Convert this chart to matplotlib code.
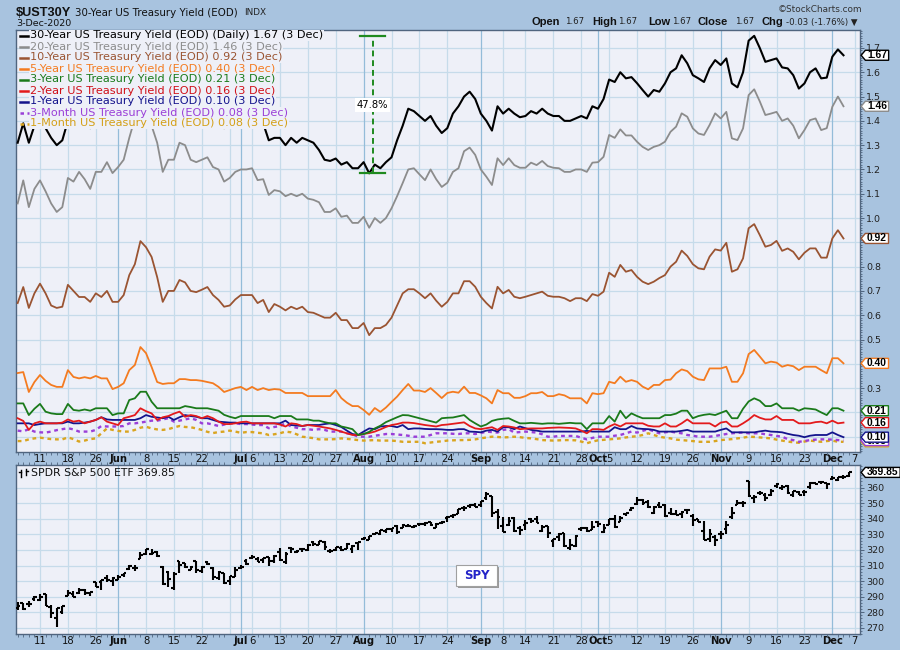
import numpy as np
import pandas as pd
import matplotlib
matplotlib.use('Agg')
import matplotlib.pyplot as plt
from matplotlib.path import Path
from matplotlib.collections import LineCollection
from matplotlib.lines import Line2D
from matplotlib.patches import Rectangle
import matplotlib.ticker as mticker

plt.rcParams['font.family'] = ['DejaVu Sans']

# ---------------- categories (trading days) ----------------
holidays = ['2020-05-25', '2020-07-03', '2020-09-07', '2020-11-26']
axis_dates = pd.bdate_range('2020-05-05', '2020-12-07', freq='C', holidays=holidays)

week_dates = ['2020-05-11', '2020-05-18', '2020-05-26', '2020-06-08', '2020-06-15', '2020-06-22',
              '2020-06-29', '2020-07-06', '2020-07-13', '2020-07-20', '2020-07-27', '2020-08-10',
              '2020-08-17', '2020-08-24', '2020-09-08', '2020-09-14', '2020-09-21', '2020-09-28',
              '2020-10-05', '2020-10-12', '2020-10-19', '2020-10-26', '2020-11-09', '2020-11-16',
              '2020-11-23', '2020-12-07']
week_labels = ['11', '18', '26', '8', '15', '22', '', '6', '13', '20', '27', '10', '17', '24',
               '8', '14', '21', '28', '5', '12', '19', '26', '9', '16', '23', '7']
month_dates = ['2020-06-01', '2020-07-01', '2020-08-03', '2020-09-01', '2020-10-01',
               '2020-11-02', '2020-12-01']
month_labels = ['Jun', 'Jul', 'Aug', 'Sep', 'Oct', 'Nov', 'Dec']

# ---------------- Treasury yields (EOD), 5 May .. 3 Dec 2020 ----------------
y30 = [1.31, 1.39, 1.31, 1.38,
       1.41, 1.37, 1.33, 1.30, 1.32,
       1.40, 1.38, 1.40, 1.39, 1.37,
       1.43, 1.43, 1.47, 1.42,
       1.45, 1.48, 1.57, 1.64, 1.68,
       1.66, 1.60, 1.53, 1.42, 1.46,
       1.46, 1.53, 1.52, 1.46, 1.46,
       1.46, 1.47, 1.43, 1.42, 1.37,
       1.38, 1.41, 1.43, 1.43,
       1.44, 1.38, 1.39, 1.32, 1.33,
       1.33, 1.30, 1.33, 1.31, 1.33,
       1.32, 1.31, 1.28, 1.24, 1.235,
       1.245, 1.22, 1.23, 1.205, 1.205,
       1.23, 1.184, 1.22, 1.205, 1.23,
       1.25, 1.32, 1.38, 1.45, 1.44,
       1.42, 1.40, 1.42, 1.38, 1.35,
       1.37, 1.43, 1.46, 1.50, 1.52,
       1.49, 1.43, 1.40, 1.36, 1.46,
       1.43, 1.45, 1.43, 1.415,
       1.42, 1.44, 1.43, 1.45, 1.43,
       1.42, 1.42, 1.40, 1.40, 1.41,
       1.42, 1.41, 1.46, 1.45, 1.49,
       1.57, 1.56, 1.60, 1.575, 1.58,
       1.555, 1.527, 1.50, 1.527, 1.52,
       1.554, 1.60, 1.616, 1.67, 1.637,
       1.588, 1.575, 1.56, 1.616, 1.65,
       1.63, 1.657, 1.554, 1.538, 1.60,
       1.73, 1.75, 1.70, 1.643, 1.65,
       1.657, 1.62, 1.616, 1.588, 1.533,
       1.554, 1.60, 1.616,
       1.575,
       1.578, 1.664, 1.694, 1.67]

y20 = [1.06, 1.155, 1.045, 1.12,
       1.155, 1.11, 1.06, 1.025, 1.045,
       1.165, 1.15, 1.19, 1.16, 1.12,
       1.19, 1.19, 1.23, 1.185,
       1.21, 1.24, 1.33, 1.41, 1.45,
       1.44, 1.38, 1.31, 1.19, 1.24,
       1.24, 1.31, 1.30, 1.24, 1.23,
       1.24, 1.25, 1.21, 1.20, 1.15,
       1.165, 1.19, 1.20, 1.20,
       1.205, 1.156, 1.16, 1.095, 1.115,
       1.11, 1.09, 1.10, 1.09, 1.10,
       1.08, 1.075, 1.065, 1.025, 1.025,
       1.04, 1.005, 1.01, 0.98, 0.98,
       1.005, 0.96, 1.00, 0.98, 1.00,
       1.04, 1.09, 1.144, 1.20, 1.205,
       1.18, 1.156, 1.20, 1.16, 1.128,
       1.145, 1.19, 1.205, 1.275, 1.29,
       1.26, 1.20, 1.17, 1.136, 1.246,
       1.218, 1.246, 1.218, 1.207,
       1.207, 1.228, 1.218, 1.235, 1.214,
       1.207, 1.205, 1.19, 1.19, 1.20,
       1.20, 1.19, 1.228, 1.23, 1.252,
       1.342, 1.33, 1.365, 1.34, 1.34,
       1.314, 1.293, 1.28, 1.293, 1.30,
       1.314, 1.355, 1.376, 1.431, 1.417,
       1.369, 1.348, 1.342, 1.383, 1.431,
       1.41, 1.437, 1.328, 1.321, 1.369,
       1.506, 1.53, 1.48, 1.424, 1.43,
       1.437, 1.40, 1.41, 1.38, 1.328,
       1.362, 1.403, 1.41,
       1.362,
       1.37, 1.458, 1.50, 1.46]

y10 = [0.65, 0.716, 0.63, 0.69,
       0.73, 0.69, 0.64, 0.63, 0.635,
       0.725, 0.70, 0.675, 0.675, 0.655,
       0.69, 0.675, 0.70, 0.655,
       0.655, 0.683, 0.765, 0.81, 0.905,
       0.88, 0.84, 0.757, 0.655, 0.70,
       0.70, 0.745, 0.735, 0.70, 0.695,
       0.705, 0.716, 0.683, 0.663, 0.635,
       0.64, 0.665, 0.683, 0.683,
       0.683, 0.65, 0.663, 0.613, 0.646,
       0.635, 0.62, 0.635, 0.625, 0.635,
       0.613, 0.61, 0.60, 0.59, 0.59,
       0.61, 0.58, 0.58, 0.547, 0.547,
       0.568, 0.518, 0.547, 0.547, 0.56,
       0.59, 0.64, 0.69, 0.707, 0.707,
       0.69, 0.67, 0.69, 0.66, 0.635,
       0.655, 0.69, 0.69, 0.74, 0.74,
       0.717, 0.676, 0.65, 0.628, 0.717,
       0.69, 0.704, 0.676, 0.67,
       0.676, 0.683, 0.69, 0.697, 0.68,
       0.676, 0.676, 0.67, 0.658, 0.67,
       0.67, 0.658, 0.687, 0.68, 0.697,
       0.775, 0.758, 0.807, 0.779, 0.786,
       0.758, 0.738, 0.728, 0.738, 0.753,
       0.765, 0.80, 0.82, 0.866, 0.844,
       0.81, 0.793, 0.789, 0.841, 0.871,
       0.866, 0.898, 0.779, 0.789, 0.834,
       0.958, 0.975, 0.93, 0.882, 0.889,
       0.906, 0.865, 0.875, 0.861, 0.83,
       0.857, 0.875, 0.875,
       0.837,
       0.837, 0.916, 0.95, 0.916]

y5 = [0.362, 0.366, 0.284, 0.325,
      0.354, 0.33, 0.313, 0.305, 0.305,
      0.374, 0.346, 0.34, 0.345, 0.34,
      0.35, 0.34, 0.34, 0.296,
      0.305, 0.32, 0.374, 0.395, 0.469,
      0.444, 0.387, 0.325, 0.317, 0.32,
      0.32, 0.337, 0.337, 0.333, 0.333,
      0.33, 0.325, 0.32, 0.305, 0.284,
      0.292, 0.30, 0.305, 0.292,
      0.305, 0.292, 0.30, 0.292, 0.296,
      0.294, 0.28, 0.28, 0.28, 0.28,
      0.267, 0.267, 0.267, 0.267, 0.267,
      0.292, 0.259, 0.24, 0.226, 0.226,
      0.21, 0.19, 0.218, 0.202, 0.22,
      0.243, 0.265, 0.292, 0.317, 0.29,
      0.29, 0.284, 0.30, 0.28, 0.259,
      0.28, 0.285, 0.281, 0.306, 0.28,
      0.28, 0.27, 0.258, 0.237, 0.292,
      0.279, 0.279, 0.26, 0.26,
      0.267, 0.279, 0.279, 0.284, 0.267,
      0.267, 0.275, 0.27, 0.258, 0.258,
      0.258, 0.237, 0.279, 0.275, 0.279,
      0.326, 0.32, 0.347, 0.326, 0.333,
      0.326, 0.306, 0.295, 0.313, 0.313,
      0.333, 0.335, 0.361, 0.377, 0.37,
      0.347, 0.336, 0.333, 0.381, 0.381,
      0.381, 0.388, 0.326, 0.326, 0.361,
      0.44, 0.457, 0.43, 0.402, 0.409,
      0.405, 0.388, 0.395, 0.39, 0.374,
      0.388, 0.388, 0.388,
      0.374,
      0.361, 0.423, 0.423, 0.402]

y3 = [0.237, 0.237, 0.189, 0.215,
      0.235, 0.203, 0.196, 0.193, 0.193,
      0.235, 0.21, 0.207, 0.212, 0.207,
      0.217, 0.217, 0.217, 0.189,
      0.196, 0.196, 0.251, 0.258, 0.285,
      0.285, 0.244, 0.217, 0.217, 0.217,
      0.217, 0.217, 0.226, 0.222, 0.217,
      0.217, 0.217, 0.212, 0.207, 0.19,
      0.182, 0.176, 0.185, 0.185,
      0.185, 0.185, 0.185, 0.185, 0.176,
      0.185, 0.185, 0.185, 0.171, 0.171,
      0.171, 0.166, 0.166, 0.16, 0.155,
      0.155, 0.142, 0.137, 0.131, 0.107,
      0.111, 0.12, 0.134, 0.145, 0.16,
      0.17, 0.18, 0.189, 0.188, 0.182,
      0.176, 0.17, 0.164, 0.158, 0.176,
      0.178, 0.179, 0.184, 0.189, 0.169,
      0.155, 0.142, 0.15, 0.165, 0.171,
      0.174, 0.176, 0.165, 0.155,
      0.155, 0.157, 0.155, 0.153, 0.155,
      0.155, 0.153, 0.155, 0.157, 0.155,
      0.155, 0.131, 0.155, 0.155, 0.155,
      0.185, 0.162, 0.207, 0.176, 0.196,
      0.185, 0.176, 0.176, 0.176, 0.176,
      0.189, 0.189, 0.195, 0.207, 0.207,
      0.176, 0.185, 0.19, 0.193, 0.189,
      0.198, 0.207, 0.176, 0.176, 0.215,
      0.245, 0.258, 0.248, 0.226, 0.226,
      0.237, 0.217, 0.217, 0.217, 0.207,
      0.217, 0.215, 0.212,
      0.20,
      0.189, 0.217, 0.217, 0.207]

y2 = [0.176, 0.165, 0.128, 0.155,
      0.162, 0.155, 0.155, 0.155, 0.158,
      0.171, 0.162, 0.166, 0.155, 0.162,
      0.169, 0.18, 0.162, 0.155,
      0.148, 0.176, 0.182, 0.189, 0.217,
      0.205, 0.196, 0.169, 0.18, 0.185,
      0.195, 0.203, 0.182, 0.189, 0.185,
      0.176, 0.185, 0.176, 0.162, 0.152,
      0.152, 0.155, 0.16, 0.162,
      0.155, 0.155, 0.155, 0.155, 0.155,
      0.15, 0.142, 0.155, 0.152, 0.144,
      0.148, 0.145, 0.142, 0.138, 0.134,
      0.128, 0.121, 0.114, 0.107, 0.107,
      0.111, 0.115, 0.121, 0.13, 0.14,
      0.148, 0.152, 0.158, 0.158, 0.156,
      0.152, 0.148, 0.145, 0.142, 0.148,
      0.15, 0.153, 0.156, 0.159, 0.144,
      0.134, 0.131, 0.135, 0.139, 0.128,
      0.144, 0.142, 0.138, 0.131,
      0.133, 0.134, 0.134, 0.134, 0.136,
      0.137, 0.138, 0.137, 0.136, 0.134,
      0.125, 0.114, 0.131, 0.131, 0.128,
      0.142, 0.152, 0.142, 0.155, 0.155,
      0.155, 0.155, 0.145, 0.142, 0.142,
      0.155, 0.142, 0.142, 0.155, 0.171,
      0.155, 0.155, 0.155, 0.155, 0.142,
      0.158, 0.162, 0.142, 0.142, 0.155,
      0.17, 0.189, 0.178, 0.171, 0.171,
      0.185, 0.169, 0.169, 0.169, 0.155,
      0.155, 0.155, 0.16,
      0.162,
      0.155, 0.166, 0.155, 0.158]

y1 = [0.155, 0.155, 0.155, 0.148,
      0.152, 0.155, 0.155, 0.155, 0.155,
      0.162, 0.155, 0.155, 0.158, 0.162,
      0.169, 0.18, 0.171, 0.169,
      0.169, 0.169, 0.169, 0.169, 0.176,
      0.189, 0.182, 0.179, 0.176, 0.182,
      0.169, 0.18, 0.189, 0.185, 0.182,
      0.176, 0.176, 0.169, 0.162, 0.16,
      0.158, 0.158, 0.155, 0.155,
      0.155, 0.155, 0.155, 0.155, 0.155,
      0.155, 0.166, 0.148, 0.146, 0.144,
      0.148, 0.148, 0.148, 0.152, 0.155,
      0.148, 0.14, 0.125, 0.111, 0.107,
      0.121, 0.134, 0.131, 0.142, 0.144,
      0.144, 0.139, 0.148, 0.131, 0.134,
      0.134, 0.132, 0.131, 0.131, 0.13,
      0.128, 0.128, 0.131, 0.131, 0.121,
      0.12, 0.118, 0.125, 0.128, 0.121,
      0.139, 0.139, 0.131, 0.142,
      0.135, 0.128, 0.125, 0.121, 0.121,
      0.121, 0.121, 0.121, 0.121, 0.121,
      0.121, 0.124, 0.121, 0.121, 0.121,
      0.121, 0.139, 0.131, 0.131, 0.144,
      0.134, 0.132, 0.131, 0.128, 0.121,
      0.121, 0.121, 0.121, 0.124, 0.128,
      0.121, 0.121, 0.121, 0.121, 0.121,
      0.128, 0.134, 0.118, 0.118, 0.118,
      0.118, 0.118, 0.122, 0.125, 0.121,
      0.12, 0.118, 0.112, 0.107, 0.104,
      0.098, 0.104, 0.107,
      0.107,
      0.107, 0.118, 0.107, 0.098]

y3m = [0.125, 0.122, 0.131, 0.121,
       0.118, 0.117, 0.121, 0.127, 0.131,
       0.135, 0.13, 0.121, 0.121, 0.121,
       0.128, 0.144, 0.142, 0.142,
       0.142, 0.144, 0.155, 0.155, 0.158,
       0.162, 0.166, 0.166, 0.171, 0.176,
       0.162, 0.166, 0.171, 0.176, 0.169,
       0.155, 0.155, 0.15, 0.144, 0.15,
       0.155, 0.155, 0.152, 0.152,
       0.15, 0.148, 0.148, 0.135, 0.14,
       0.144, 0.155, 0.142, 0.137, 0.131,
       0.131, 0.128, 0.131, 0.128, 0.121,
       0.121, 0.121, 0.114, 0.11, 0.10,
       0.10, 0.10, 0.104, 0.107, 0.111,
       0.111, 0.109, 0.107, 0.104, 0.10,
       0.10, 0.10, 0.107, 0.114, 0.114,
       0.114, 0.112, 0.111, 0.114, 0.114,
       0.111, 0.115, 0.121, 0.119, 0.117,
       0.128, 0.131, 0.117, 0.119,
       0.121, 0.119, 0.117, 0.11, 0.10,
       0.10, 0.103, 0.103, 0.103, 0.103,
       0.096, 0.089, 0.095, 0.10, 0.10,
       0.10, 0.104, 0.107, 0.114, 0.121,
       0.117, 0.124, 0.131, 0.122, 0.114,
       0.118, 0.121, 0.117, 0.114, 0.107,
       0.104, 0.10, 0.10, 0.10, 0.103,
       0.107, 0.111, 0.114, 0.116, 0.117,
       0.114, 0.114, 0.114, 0.11, 0.107,
       0.103, 0.10, 0.09, 0.086, 0.079,
       0.082, 0.086, 0.088,
       0.089,
       0.089, 0.088, 0.086, 0.084]

y1m = [0.082, 0.082, 0.089, 0.093,
       0.096, 0.093, 0.09, 0.089, 0.089,
       0.097, 0.09, 0.08, 0.084, 0.09,
       0.093, 0.114, 0.134, 0.128,
       0.124, 0.121, 0.121, 0.128, 0.137,
       0.141, 0.134, 0.13, 0.128, 0.131,
       0.138, 0.144, 0.14, 0.139, 0.134,
       0.128, 0.12, 0.115, 0.119, 0.121,
       0.125, 0.121, 0.116, 0.119,
       0.119, 0.116, 0.114, 0.107, 0.11,
       0.114, 0.121, 0.118, 0.11, 0.10,
       0.097, 0.094, 0.089, 0.089, 0.089,
       0.09, 0.093, 0.091, 0.089, 0.086,
       0.084, 0.085, 0.086, 0.084, 0.084,
       0.084, 0.082, 0.079, 0.079, 0.079,
       0.079, 0.073, 0.076, 0.079, 0.081,
       0.084, 0.085, 0.086, 0.086, 0.087,
       0.089, 0.093, 0.097, 0.10, 0.099,
       0.097, 0.098, 0.10, 0.098,
       0.095, 0.093, 0.09, 0.086, 0.085,
       0.084, 0.085, 0.086, 0.086, 0.085,
       0.08, 0.073, 0.08, 0.085, 0.087,
       0.089, 0.091, 0.093, 0.097, 0.10,
       0.102, 0.107, 0.114, 0.107, 0.10,
       0.096, 0.093, 0.088, 0.086, 0.084,
       0.082, 0.079, 0.079, 0.079, 0.082,
       0.086, 0.088, 0.09, 0.093, 0.096,
       0.10, 0.099, 0.097, 0.095, 0.093,
       0.088, 0.084, 0.08, 0.077, 0.075,
       0.08, 0.084, 0.081,
       0.079,
       0.082, 0.084, 0.079, 0.079]

# ---------------- SPY daily OHLC, 5 May .. 4 Dec 2020 (dividend adjusted) ----------------
spy_open = [282.6, 285.6, 285.3, 288.6,
            287.9, 291.5, 283.6, 276.6, 280.0,
            290.6, 291.8, 292.5, 294.3, 292.1,
            299.4, 299.6, 302.1, 299.9,
            301.0, 303.9, 307.6, 308.5, 314.5,
            317.5, 317.6, 318.7, 308.8, 305.6,
            295.5, 312.8, 311.4, 307.4, 312.9,
            306.7, 312.2, 308.6, 302.2, 304.9,
            300.2, 302.7, 308.3, 312.9,
            315.1, 314.1, 313.3, 315.5, 313.0,
            318.8, 312.0, 321.1, 318.5, 320.6,
            320.1, 325.1, 323.3, 325.1, 319.6,
            320.3, 321.1, 320.8, 320.6, 324.6,
            327.0, 326.5, 330.1, 330.1, 331.9,
            333.7, 335.5, 334.1, 335.5, 335.0,
            336.6, 336.9, 337.7, 334.0, 337.1,
            340.7, 342.1, 343.3, 347.1, 348.0,
            348.9, 348.9, 353.2, 354.4, 344.7,
            335.3, 336.2, 340.4, 334.4,
            336.1, 339.7, 340.1, 332.2, 335.4,
            325.7, 328.6, 330.9, 321.2, 322.6,
            333.2, 334.0, 333.1, 337.7, 331.7,
            336.1, 339.9, 338.1, 342.9, 345.6,
            349.6, 352.3, 350.8, 343.7, 349.0,
            348.7, 343.5, 343.3, 343.0, 345.9,
            342.1, 339.8, 332.1, 327.2, 328.3,
            330.2, 333.7, 340.9, 349.2, 349.9,
            364.0, 353.5, 356.4, 355.6, 355.3,
            361.0, 360.0, 360.9, 355.6, 357.5,
            357.3, 360.2, 363.1,
            363.8,
            362.8, 365.6, 364.8, 366.7, 367.3]

spy_high = [286.8, 286.0, 287.3, 290.5,
            291.5, 291.7, 284.8, 282.7, 283.9,
            294.2, 293.7, 295.3, 295.1, 293.1,
            299.6, 301.0, 304.2, 302.4,
            303.6, 305.5, 310.6, 310.3, 318.5,
            320.7, 320.5, 319.6, 309.5, 306.5,
            305.7, 313.0, 311.7, 309.6, 313.1,
            309.5, 313.2, 309.2, 306.4, 305.1,
            303.4, 308.9, 310.6, 314.4,
            316.6, 315.8, 315.0, 315.8, 316.6,
            321.4, 318.4, 321.7, 320.0, 321.3,
            323.8, 325.6, 325.9, 325.9, 320.7,
            322.1, 322.3, 324.4, 323.1, 325.3,
            328.3, 328.7, 331.0, 333.1, 333.5,
            334.4, 336.2, 336.9, 336.9, 336.0,
            336.9, 337.7, 338.2, 337.4, 338.3,
            341.6, 342.8, 346.4, 348.5, 349.3,
            349.9, 351.3, 357.3, 354.9, 346.4,
            341.2, 341.1, 341.1, 335.6,
            339.0, 340.6, 341.7, 336.3, 335.5,
            327.1, 330.9, 331.2, 326.8, 329.6,
            335.0, 334.8, 338.3, 338.7, 337.0,
            340.0, 342.2, 341.6, 343.9, 347.4,
            354.0, 352.5, 351.9, 348.0, 350.8,
            349.3, 346.9, 345.7, 345.2, 346.0,
            343.0, 340.1, 338.3, 333.4, 329.7,
            332.4, 338.3, 347.9, 352.2, 351.5,
            364.4, 355.2, 357.6, 356.7, 358.9,
            362.8, 361.9, 361.5, 358.2, 357.7,
            358.8, 363.8, 363.2,
            364.2,
            363.1, 367.7, 367.0, 368.2, 369.9]

spy_low = [281.2, 281.4, 283.6, 287.4,
           287.4, 284.1, 276.6, 270.7, 279.0,
           290.2, 289.5, 292.0, 291.2, 290.7,
           296.2, 294.3, 299.7, 296.9,
           300.5, 302.5, 307.3, 306.5, 314.5,
           316.9, 316.6, 315.5, 297.5, 296.1,
           294.2, 305.1, 308.2, 306.9, 305.3,
           305.2, 310.3, 300.9, 300.6, 298.2,
           297.7, 302.6, 307.8, 310.2,
           314.3, 312.4, 311.4, 309.4, 311.5,
           312.8, 310.7, 318.0, 317.8, 318.4,
           319.3, 322.6, 323.2, 320.2, 317.9,
           319.5, 319.5, 320.8, 318.3, 320.0,
           326.4, 326.5, 329.8, 329.8, 330.9,
           331.6, 330.5, 334.1, 334.5, 334.2,
           335.5, 335.2, 335.2, 333.8, 336.4,
           338.1, 340.4, 342.8, 345.1, 346.7,
           347.6, 347.8, 352.0, 341.2, 333.5,
           331.5, 335.2, 331.5, 329.6,
           332.9, 337.1, 337.1, 331.6, 328.0,
           321.7, 325.9, 322.1, 319.8, 321.6,
           332.2, 331.6, 332.9, 335.0, 331.2,
           336.0, 334.4, 338.1, 341.9, 344.9,
           349.1, 349.1, 347.1, 343.1, 347.1,
           341.0, 342.6, 342.4, 340.7, 343.1,
           335.6, 338.0, 326.1, 325.1, 322.6,
           327.2, 330.3, 339.6, 348.9, 347.7,
           354.1, 350.5, 355.1, 351.3, 354.7,
           359.6, 358.3, 356.2, 354.2, 355.3,
           354.9, 359.3, 361.5,
           362.6,
           359.2, 364.9, 364.2, 365.5, 367.2]

spy_close = [283.8, 281.8, 285.2, 290.0,
             290.0, 284.2, 279.2, 282.5, 283.9,
             292.5, 289.5, 294.4, 292.4, 292.9,
             296.5, 300.9, 300.4, 301.7,
             302.9, 305.5, 309.5, 308.7, 316.6,
             320.5, 318.1, 316.3, 298.1, 301.6,
             304.4, 310.3, 309.0, 309.1, 307.4,
             309.3, 310.8, 302.8, 306.1, 298.8,
             303.2, 307.1, 309.2, 310.9,
             315.8, 312.5, 314.9, 313.1, 316.3,
             313.5, 317.6, 320.5, 319.5, 320.4,
             323.0, 323.7, 325.5, 321.6, 319.6,
             321.9, 319.9, 323.8, 322.6, 325.2,
             327.4, 328.7, 330.7, 333.0, 333.2,
             334.2, 331.4, 336.1, 335.5, 335.5,
             336.5, 337.3, 335.8, 336.9, 338.1,
             341.5, 342.7, 346.1, 346.9, 349.1,
             347.9, 351.2, 356.2, 344.0, 341.2,
             331.8, 338.4, 332.5, 332.7,
             337.1, 338.8, 337.4, 334.5, 330.7,
             327.0, 330.3, 322.6, 323.5, 328.7,
             334.2, 332.4, 334.9, 337.0, 333.8,
             339.8, 334.9, 340.8, 343.8, 346.9,
             352.4, 350.1, 347.9, 347.5, 347.3,
             342.0, 343.4, 342.7, 344.6, 345.8,
             339.4, 338.2, 326.7, 330.0, 326.5,
             330.2, 336.0, 343.5, 350.2, 350.2,
             354.6, 354.0, 356.7, 353.2, 358.1,
             362.6, 360.6, 356.3, 357.8, 355.3,
             357.5, 363.2, 362.7,
             363.7,
             362.1, 366.0, 366.8, 366.7, 369.85]

series_names = ['30-Year US Treasury Yield (EOD) (Daily)', '20-Year US Treasury Yield (EOD)',
                '10-Year US Treasury Yield (EOD)', '5-Year US Treasury Yield (EOD)',
                '3-Year US Treasury Yield (EOD)', '2-Year US Treasury Yield (EOD)',
                '1-Year US Treasury Yield (EOD)', '3-Month US Treasury Yield (EOD)',
                '1-Month US Treasury Yield (EOD)']
series_data = [y30, y20, y10, y5, y3, y2, y1, y3m, y1m]
for s in series_data:
    assert len(s) == 149, len(s)
for s in (spy_open, spy_high, spy_low, spy_close):
    assert len(s) == 150, len(s)
assert len(axis_dates) == 151

# ---------------- styles ----------------
OUTER = '#a8c3df'
PLOT_BG = '#eef0f8'
GRID = '#c6dbea'
GRID_M = '#94bcd9'
SPINE = '#50657f'
colors = ['#000000', '#8c8c8c', '#9a5432', '#f47b20', '#1a7a1a', '#e31a1c', '#14148c',
          '#9a3fd8', '#d9a520']
text_colors = ['#000000', '#8c8c8c', '#9a5432', '#f47b20', '#1a7a1a', '#d01018', '#14148c',
               '#9a3fd8', '#d4a017']
dashed = [False] * 7 + [True, True]

W, H = 900, 650
fig = plt.figure(figsize=(9, 6.5), dpi=100)
fig.patch.set_facecolor(OUTER)


def px_axes(l, t, r, b):
    return fig.add_axes([l / W, 1 - b / H, (r - l) / W, (b - t) / H])


ax1 = px_axes(16, 30, 860, 452)
ax2 = px_axes(16, 465, 860, 634)

date_pos = {d.strftime('%Y-%m-%d'): i for i, d in enumerate(axis_dates)}
week_pos = [date_pos[d] for d in week_dates]
month_pos = [date_pos[d] for d in month_dates]
xmin, xmax = -0.3, len(axis_dates) - 0.04

for ax in (ax1, ax2):
    ax.set_facecolor(PLOT_BG)
    ax.set_xlim(xmin, xmax)
    for s in ax.spines.values():
        s.set_color(SPINE)
        s.set_linewidth(1.0)
    for p in week_pos:
        ax.axvline(p, color=GRID, lw=0.9, zorder=0.5)
    for p in month_pos:
        ax.axvline(p, color=GRID_M, lw=0.9, zorder=0.6)
    ax.set_xticks(week_pos + month_pos)
    ax.set_xticklabels(week_labels + month_labels)
    for k, lab in enumerate(ax.get_xticklabels()):
        lab.set_fontsize(7.2)
        lab.set_color('#111111')
        if k >= len(week_pos):
            lab.set_fontweight('bold')
    ax.xaxis.set_minor_locator(mticker.FixedLocator(np.arange(len(axis_dates))))
    ax.tick_params(axis='x', which='major', length=0, pad=1.5)
    ax.tick_params(axis='x', which='minor', length=2, color=SPINE, width=0.6)
    ax.yaxis.tick_right()
    ax.tick_params(axis='y', which='major', length=3, color=SPINE, width=0.7,
                   labelsize=6.8, labelcolor='#222222', pad=1.5)
    ax.tick_params(axis='y', which='minor', length=1.5, color=SPINE, width=0.6)
ax2.tick_params(axis='x', which='minor', top=True)

# ---------------- top panel: yields ----------------
last_vals = [s[-1] for s in series_data]
ax1.set_ylim(0.037, 1.774)
yt = np.round(np.arange(0.1, 1.71, 0.1), 1)
ax1.set_yticks(yt)
# labels hidden behind the value tags are left blank
ax1.set_yticklabels(['' if min(abs(t - v) for v in last_vals) < 0.025 else f'{t:.1f}' for t in yt])
ax1.yaxis.set_minor_locator(mticker.MultipleLocator(0.01))
ax1.grid(axis='y', color=GRID, lw=0.9, zorder=0.5)
ax1.set_axisbelow(True)

xs = np.arange(149)
for k in range(len(series_data) - 1, -1, -1):
    if dashed[k]:
        ax1.plot(xs, series_data[k], color=colors[k], lw=1.7, ls=(0, (1.6, 1.6)), zorder=3)
    else:
        ax1.plot(xs, series_data[k], color=colors[k], lw=1.5 if k == 0 else 1.3, zorder=3 + (k == 0))


def tag_box(x0, y0, width, height, mutation_size):
    p = 0.16 * mutation_size
    x0 -= p
    x1 = x0 + width + 2 * p
    y1 = y0 + height
    ym = 0.5 * (y0 + y1)
    tip = 0.42 * height
    return Path([(x0, y0), (x1, y0), (x1, y1), (x0, y1), (x0 - tip, ym), (x0, y0)], closed=True)


def add_tag(ax, yval, txt, ec, z):
    ax.annotate(txt, xy=(1, yval), xycoords=ax.get_yaxis_transform(), xytext=(7, 0),
                textcoords='offset pixels', ha='left', va='center', fontsize=7.4,
                fontweight='bold', family='Liberation Sans', color='black',
                bbox=dict(boxstyle=tag_box, fc='white', ec=ec, lw=1.0),
                annotation_clip=False, zorder=z)


tag_order = [8, 7, 6, 5, 4, 3, 2, 1, 0]
for z, k in enumerate(tag_order):
    last = series_data[k][-1]
    add_tag(ax1, last, f'{last:.2f}', colors[k], 10 + z)

# legend (each entry on its own background so lines pass behind)
fx = lambda px: px / W
fy = lambda py: 1 - py / H
for k, name in enumerate(series_names):
    yc = 35.5 + 11.0 * k
    fig.text(fx(30), fy(yc), f'{name} {series_data[k][-1]:.2f} (3 Dec)', fontsize=8.1,
             color=text_colors[k], ha='left', va='center', zorder=20,
             bbox=dict(boxstyle='square,pad=0.08', fc=PLOT_BG, ec='none'))
    if dashed[k]:
        fig.add_artist(Line2D([fx(19.5), fx(29)], [fy(yc), fy(yc)], color=colors[k], lw=1.8,
                              ls=(0, (1.4, 1.4)), zorder=21))
    else:
        fig.add_artist(Line2D([fx(19.5), fx(28)], [fy(yc), fy(yc)], color=colors[k], lw=1.8,
                              zorder=21))

# percentage change annotation (30Y low to high)
arr30 = np.array(y30)
i_lo = int(np.argmin(arr30))
lo, hi = arr30.min(), arr30.max()
xa = i_lo + 0.6
GREEN = '#1f8a1f'
ax1.plot([xa, xa], [lo, hi], color=GREEN, lw=1.4, ls=(0, (3, 2)), zorder=6)
ax1.plot([xa - 2.3, xa + 2.3], [lo, lo], color=GREEN, lw=1.6, zorder=6)
ax1.plot([xa - 2.3, xa + 2.3], [hi, hi], color=GREEN, lw=1.6, zorder=6)
ax1.text(xa, (lo + hi) / 2, f'{(hi / lo - 1) * 100:.1f}%', fontsize=7.2, ha='center',
         va='center', zorder=7, bbox=dict(boxstyle='square,pad=0.2', fc='white', ec='none'))

# ---------------- bottom panel: SPY OHLC ----------------
ax2.set_ylim(266, 374.6)
ax2.set_yticks(np.arange(270, 361, 10))
ax2.yaxis.set_minor_locator(mticker.MultipleLocator(2))
ax2.grid(axis='y', color=GRID, lw=0.9, zorder=0.5)
ax2.set_axisbelow(True)
segs = []
for i in range(len(spy_close)):
    segs.append([(i, spy_low[i]), (i, spy_high[i])])
    segs.append([(i - 0.5, spy_open[i]), (i, spy_open[i])])
    segs.append([(i, spy_close[i]), (i + 0.5, spy_close[i])])
ax2.add_collection(LineCollection(segs, colors='black', linewidths=1.5, zorder=3,
                                  capstyle='butt'))
add_tag(ax2, spy_close[-1], f'{spy_close[-1]:.2f}', '#000000', 10)

fig.text(fx(31), fy(473), f'SPDR S&P 500 ETF {spy_close[-1]:.2f}', fontsize=7.8,
         color='#111111', ha='left', va='center', zorder=20)
for (xa_, yb, yt_) in [(20.5, 476.5, 469.5), (25.5, 474.5, 468.5)]:
    fig.add_artist(Line2D([fx(xa_), fx(xa_)], [fy(yb), fy(yt_)], color='black', lw=1.0, zorder=21))
fig.add_artist(Line2D([fx(19), fx(20.5)], [fy(472), fy(472)], color='black', lw=1.0, zorder=21))
fig.add_artist(Line2D([fx(25.5), fx(27.5)], [fy(471), fy(471)], color='black', lw=1.0, zorder=21))

# SPY symbol box
fig.add_artist(Rectangle((fx(458), fy(588)), 41 / W, 21 / H, transform=fig.transFigure,
                         fc='#9a9a9a', ec='none', zorder=8))
fig.add_artist(Rectangle((fx(456), fy(586)), 41 / W, 21 / H, transform=fig.transFigure,
                         fc='white', ec='#a0a0a0', lw=0.8, zorder=9))
fig.text(fx(476.5), fy(575.5), 'SPY', fontsize=8.5, fontweight='bold', color='#2424c8',
         ha='center', va='center', zorder=10)

# ---------------- header ----------------
fig.text(fx(16), fy(12.5), '$UST30Y', fontsize=9.2, fontweight='bold', family='Liberation Sans',
         ha='left', va='center', color='#111111')
fig.text(fx(75), fy(12.5), '30-Year US Treasury Yield (EOD)', fontsize=7.4, ha='left',
         va='center', color='#111111')
fig.text(fx(244), fy(12.5), 'INDX', fontsize=6.4, ha='left', va='center', color='#222222')
fig.text(fx(16), fy(24), '3-Dec-2020', fontsize=6.8, ha='left', va='center', color='#111111')
fig.text(fx(862), fy(9), '\u00a9StockCharts.com', fontsize=6.4, ha='right', va='center',
         color='#333333')
header_pieces = [(532, 'Open', True), (565, '1.67', False), (592, 'High', True),
                 (618, '1.67', False), (648, 'Low', True), (672, '1.67', False),
                 (698, 'Close', True), (735, '1.67', False), (762, 'Chg', True),
                 (786, '-0.03 (-1.76%) \u25bc', False)]
for xp, s, b in header_pieces:
    if b:
        fig.text(fx(xp), fy(22), s, fontsize=8, fontweight='bold', family='Liberation Sans',
                 ha='left', va='center', color='#111111')
    else:
        fig.text(fx(xp), fy(22), s, fontsize=6.2, ha='left', va='center', color='#222222')

fig.savefig('out.png', dpi=100, facecolor=fig.get_facecolor())
